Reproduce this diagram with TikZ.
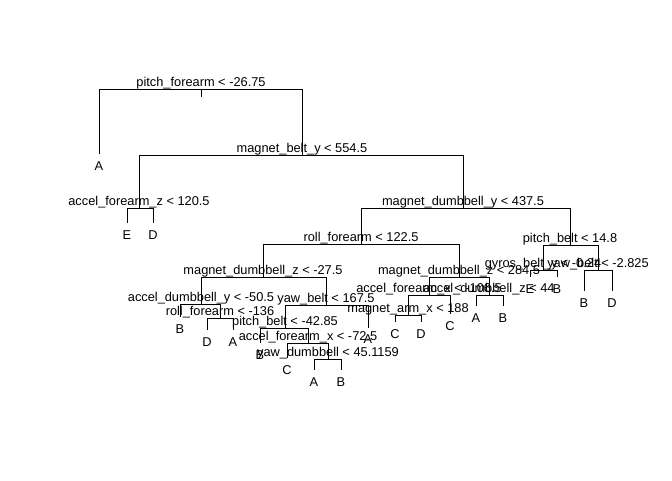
\documentclass[tikz,border=0pt]{standalone}
\usepackage{fontspec}
\setmainfont{Liberation Sans}
\begin{document}
\begin{tikzpicture}[x=1pt,y=-1pt,
  edge/.style={line width=1pt, black},
  lbl/.style={anchor=base, inner sep=0pt, text=black, font=\fontsize{12.8}{14}\selectfont}]
\fill[white] (0,0) rectangle (672,480);
\useasboundingbox (0,0) rectangle (672,480);
% split nodes (bar centres)
\coordinate (n1) at (201,89);
\coordinate (n2) at (302,155);
\coordinate (n3) at (139,208);
\coordinate (n4) at (463,208);
\coordinate (n5) at (361,244);
\coordinate (n6) at (570,245);
\coordinate (n7) at (263,277);
\coordinate (n8) at (459,277);
\coordinate (n9) at (201,304);
\coordinate (n10) at (220,318);
\coordinate (n11) at (326,305);
\coordinate (n12) at (285,328);
\coordinate (n13) at (308,343);
\coordinate (n14) at (328,359);
\coordinate (n15) at (429,295);
\coordinate (n16) at (408,315);
\coordinate (n17) at (489,295);
\coordinate (n18) at (543,270);
\coordinate (n19) at (598,270);
% leaves (line ends)
\coordinate (l1) at (99,154);
\coordinate (l2) at (127,223);
\coordinate (l3) at (153,223);
\coordinate (l4) at (180,317);
\coordinate (l5) at (207,330);
\coordinate (l6) at (233,330);
\coordinate (l7) at (368,328);
\coordinate (l8) at (260,343);
\coordinate (l9) at (287,358);
\coordinate (l10) at (314,370);
\coordinate (l11) at (341,370);
\coordinate (l12) at (395,322);
\coordinate (l13) at (421,322);
\coordinate (l14) at (450,314);
\coordinate (l15) at (476,306);
\coordinate (l16) at (503,306);
\coordinate (l17) at (530,277);
\coordinate (l18) at (557,277);
\coordinate (l19) at (584,291);
\coordinate (l20) at (612,291);
% connectors
\draw[edge] (n1) -- ++(0,8);
\draw[edge] (n1) -| (l1);  \draw[edge] (n1) -| (n2);
\draw[edge] (n2) -| (n3);  \draw[edge] (n2) -| (n4);
\draw[edge] (n3) -| (l2);  \draw[edge] (n3) -| (l3);
\draw[edge] (n4) -| (n5);  \draw[edge] (n4) -| (n6);
\draw[edge] (n5) -| (n7);  \draw[edge] (n5) -| (n8);
\draw[edge] (n6) -| (n18); \draw[edge] (n6) -| (n19);
\draw[edge] (n7) -| (n9);  \draw[edge] (n7) -| (n11);
\draw[edge] (n8) -| (n15); \draw[edge] (n8) -| (n17);
\draw[edge] (n9) -| (l4);  \draw[edge] (n9) -| (n10);
\draw[edge] (n10) -| (l5); \draw[edge] (n10) -| (l6);
\draw[edge] (n11) -| (n12); \draw[edge] (n11) -| (l7);
\draw[edge] (n12) -| (l8); \draw[edge] (n12) -| (n13);
\draw[edge] (n13) -| (l9); \draw[edge] (n13) -| (n14);
\draw[edge] (n14) -| (l10); \draw[edge] (n14) -| (l11);
\draw[edge] (n15) -| (n16); \draw[edge] (n15) -| (l14);
\draw[edge] (n16) -| (l12); \draw[edge] (n16) -| (l13);
\draw[edge] (n17) -| (l15); \draw[edge] (n17) -| (l16);
\draw[edge] (n18) -| (l17); \draw[edge] (n18) -| (l18);
\draw[edge] (n19) -| (l19); \draw[edge] (n19) -| (l20);
% split labels
\path (n1) ++(0,-3) node[lbl] (t1) {pitch\_forearm < -26.75};
\path (n2) ++(0,-3) node[lbl] (t2) {magnet\_belt\_y < 554.5};
\path (n3) ++(0,-3) node[lbl] (t3) {accel\_forearm\_z < 120.5};
\path (n4) ++(0,-3) node[lbl] (t4) {magnet\_dumbbell\_y < 437.5};
\path (n5) ++(0,-3) node[lbl] (t5) {roll\_forearm < 122.5};
\path (n6) ++(0,-3) node[lbl] (t6) {pitch\_belt < 14.8};
\path (n7) ++(0,-3) node[lbl] (t7) {magnet\_dumbbell\_z < -27.5};
\path (n8) ++(0,-3) node[lbl] (t8) {magnet\_dumbbell\_z < 284.5};
\path (n9) ++(0,-3) node[lbl] (t9) {accel\_dumbbell\_y < -50.5};
\path (n10) ++(0,-3) node[lbl] (t10) {roll\_forearm < -136};
\path (n11) ++(0,-3) node[lbl] (t11) {yaw\_belt < 167.5};
\path (n12) ++(0,-3) node[lbl] (t12) {pitch\_belt < -42.85};
\path (n13) ++(0,-3) node[lbl] (t13) {accel\_forearm\_x < -72.5};
\path (n14) ++(0,-3) node[lbl] (t14) {yaw\_dumbbell < 45.1159};
\path (n15) ++(0,-3) node[lbl] (t15) {accel\_forearm\_x < -106.5};
\path (n16) ++(0,-3) node[lbl] (t16) {magnet\_arm\_x < 188};
\path (n17) ++(0,-3) node[lbl] (t17) {accel\_dumbbell\_z < 44};
\path (n18) ++(0,-3) node[lbl] (t18) {gyros\_belt\_y < -0.24};
\path (n19) ++(0,-3) node[lbl] (t19) {yaw\_belt < -2.825};
% leaf labels
\path (l1) ++(0,16) node[lbl] (c1) {A};
\path (l2) ++(0,16) node[lbl] (c2) {E};
\path (l3) ++(0,16) node[lbl] (c3) {D};
\path (l4) ++(0,16) node[lbl] (c4) {B};
\path (l5) ++(0,16) node[lbl] (c5) {D};
\path (l6) ++(0,16) node[lbl] (c6) {A};
\path (l7) ++(0,15) node[lbl] (c7) {A};
\path (l8) ++(0,16) node[lbl] (c8) {B};
\path (l9) ++(0,16) node[lbl] (c9) {C};
\path (l10) ++(0,16) node[lbl] (c10) {A};
\path (l11) ++(0,16) node[lbl] (c11) {B};
\path (l12) ++(0,16) node[lbl] (c12) {C};
\path (l13) ++(0,16) node[lbl] (c13) {D};
\path (l14) ++(0,16) node[lbl] (c14) {C};
\path (l15) ++(0,16) node[lbl] (c15) {A};
\path (l16) ++(0,16) node[lbl] (c16) {B};
\path (l17) ++(0,16) node[lbl] (c17) {E};
\path (l18) ++(0,16) node[lbl] (c18) {B};
\path (l19) ++(0,16) node[lbl] (c19) {B};
\path (l20) ++(0,16) node[lbl] (c20) {D};
\end{tikzpicture}
\end{document}
